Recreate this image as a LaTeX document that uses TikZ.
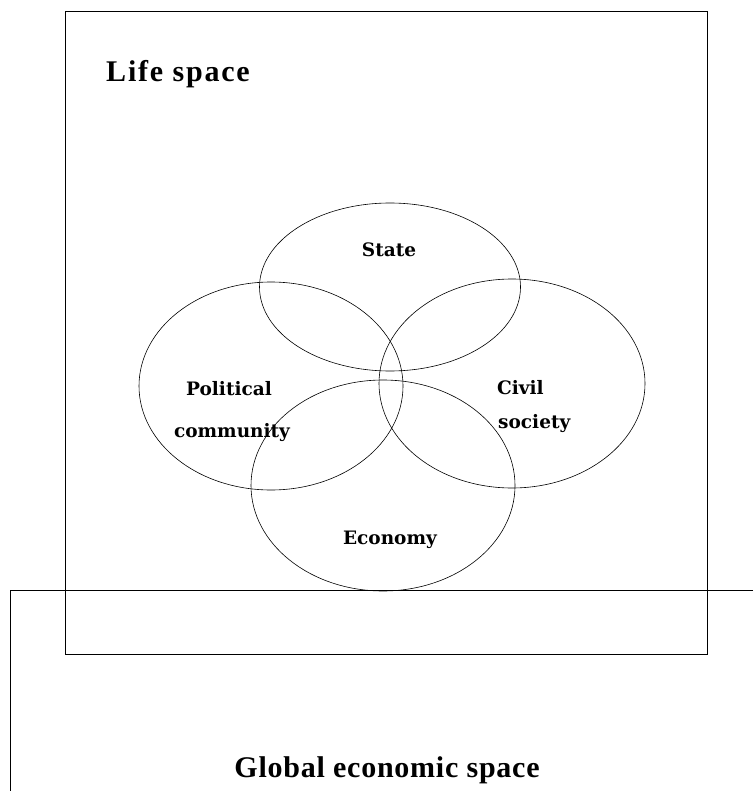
\documentclass[tikz,border=0pt]{standalone}
\usepackage{fontspec}
\setmainfont{Liberation Serif}
\newfontfamily\slabfont{DejaVu Serif}
\newfontfamily\lifefont[LetterSpace=6]{Liberation Serif}
\newfontfamily\globalfont[LetterSpace=2.5]{Liberation Serif}
\usepackage{tikz}
\tikzset{
	area/.style = {draw, line width=0.7pt},
	ring/.style = {draw, line width=0.6pt},
	title/.style = {anchor=base, inner sep=0pt, font=\bfseries\fontsize{30}{34}\selectfont},
	sector/.style = {anchor=base, inner sep=0pt, font=\slabfont\bfseries\fontsize{18.5}{22}\selectfont}
}

\begin{document}
\begin{tikzpicture}[x=1pt,y=-1pt]
	\useasboundingbox (0,0) rectangle (753,791);
	% outer spaces
	\coordinate (G1) at (753,590);
	\coordinate (G2) at (10,590);
	\coordinate (G3) at (10,791);
	\draw[area] (G1) -- (G2) -- (G3);
	\draw[area] (65,11) rectangle (707,654);
	\node[title] (life) at (178,82) {\lifefont Life space};
	\node[title] (global) at (387,777) {\globalfont Global economic space};
	% the four spheres
	\draw[ring] (390,287) ellipse (130.5 and 84);
	\draw[ring] (271,386) ellipse (132 and 104);
	\draw[ring] (512,383.5) ellipse (133 and 104.5);
	\draw[ring] (383,485.5) ellipse (132 and 105.5);
	\node[sector] (state) at (389,257) {State};
	\node[sector] (pol) at (229,395) {Political};
	\node[sector] (com) at (232,437) {community};
	\node[sector, anchor=base west] (civ) at (497,394) {Civil};
	\node[sector, anchor=base west] (soc) at (498,428) {society};
	\node[sector] (econ) at (390,544) {Economy};
\end{tikzpicture}
\end{document}
